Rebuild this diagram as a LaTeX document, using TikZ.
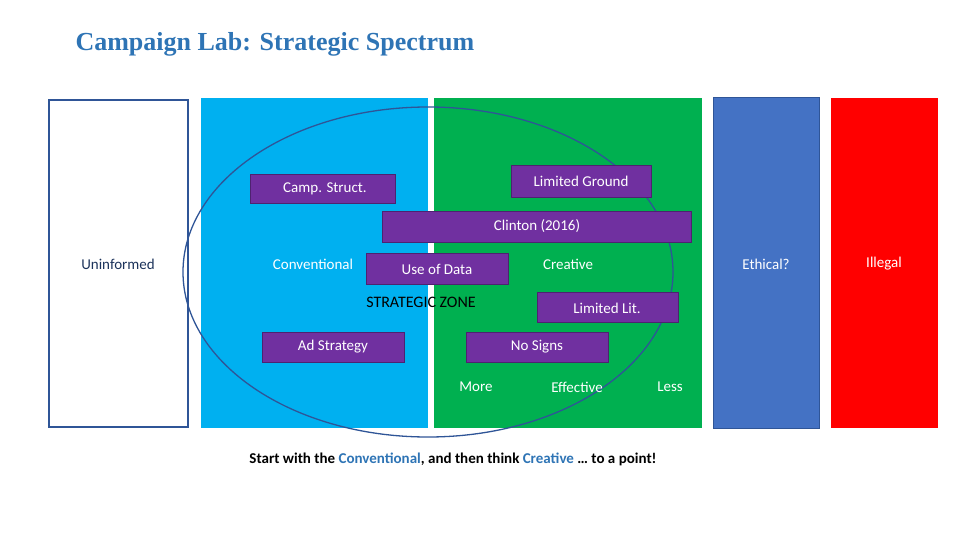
\documentclass[tikz,border=0pt]{standalone}
\usepackage{fontspec}
\setmainfont{Carlito}
\newfontfamily\titlefont{Liberation Serif}
\definecolor{cyanb}{HTML}{00B0F0}
\definecolor{greenb}{HTML}{00B050}
\definecolor{dblue}{HTML}{4472C4}
\definecolor{purp}{HTML}{7030A0}
\definecolor{tblue}{HTML}{2E74B5}
\definecolor{lineb}{HTML}{2F5597}
\begin{document}
\begin{tikzpicture}[x=1pt,y=-1pt,
  pbox/.style={fill=purp,draw=purp!70!black,line width=0.6pt},
  wt/.style={text=white,font=\fontsize{15}{18}\selectfont},
  bt/.style={text=black,font=\fontsize{16}{19}\selectfont}]
\useasboundingbox (0,0) rectangle (960,540);
\node[font=\titlefont\bfseries\fontsize{26}{30}\selectfont,text=tblue,anchor=west] (title) at (72,44) {Campaign Lab: Strategic Spectrum};
\draw[draw=lineb,line width=1.2pt,fill=white] (49,100) rectangle (188,427);
\fill[cyanb] (201,98) rectangle (428,428);
\fill[greenb] (434,98) rectangle (702,428);
\draw[fill=dblue,draw=lineb,line width=1pt] (713,98) rectangle (819,428);
\fill[red] (831,98) rectangle (938,428);
\draw[lineb,line width=1.3pt] (428,272) ellipse [x radius=245, y radius=165];
\draw[pbox] (511,165) rectangle (651,197); \node[wt] (lg) at (581,181) {Limited Ground};
\draw[pbox] (250,174) rectangle (395,203); \node[wt] (cs) at (325,189) {Camp. Struct.};
\draw[pbox] (382,211) rectangle (691,242); \node[wt] (cl) at (537,226) {Clinton (2016)};
\draw[pbox] (366,253) rectangle (508,284); \node[wt] (ud) at (437,269) {Use of Data};
\draw[pbox] (537,292) rectangle (678,322); \node[wt] (ll) at (607,308) {Limited Lit.};
\draw[pbox] (262,332) rectangle (404,362); \node[wt] (ad) at (333,347) {Ad Strategy};
\draw[pbox] (466,332) rectangle (608,362); \node[wt] (ns) at (537,347) {No Signs};
\node[text=lineb!60!black,font=\fontsize{15}{18}\selectfont] (un) at (118,264) {Uninformed};
\node[wt] (cv) at (313,264) {Conventional};
\node[wt] (cr) at (568,264) {Creative};
\node[wt] (et) at (766,264) {Ethical?};
\node[wt] (il) at (884,264) {Illegal};
\node[bt] (sz) at (421,302) {STRATEGIC ZONE};
\node[wt] (mo) at (476,387) {More};
\node[wt] (ef) at (577,387) {Effective};
\node[wt] (le) at (670,387) {Less};
\node[font=\bfseries\fontsize{15}{18}\selectfont] (bot) at (453,459) {Start with the \textcolor{tblue}{Conventional}, and then think \textcolor{tblue}{Creative} … to a point!};
\end{tikzpicture}
\end{document}
